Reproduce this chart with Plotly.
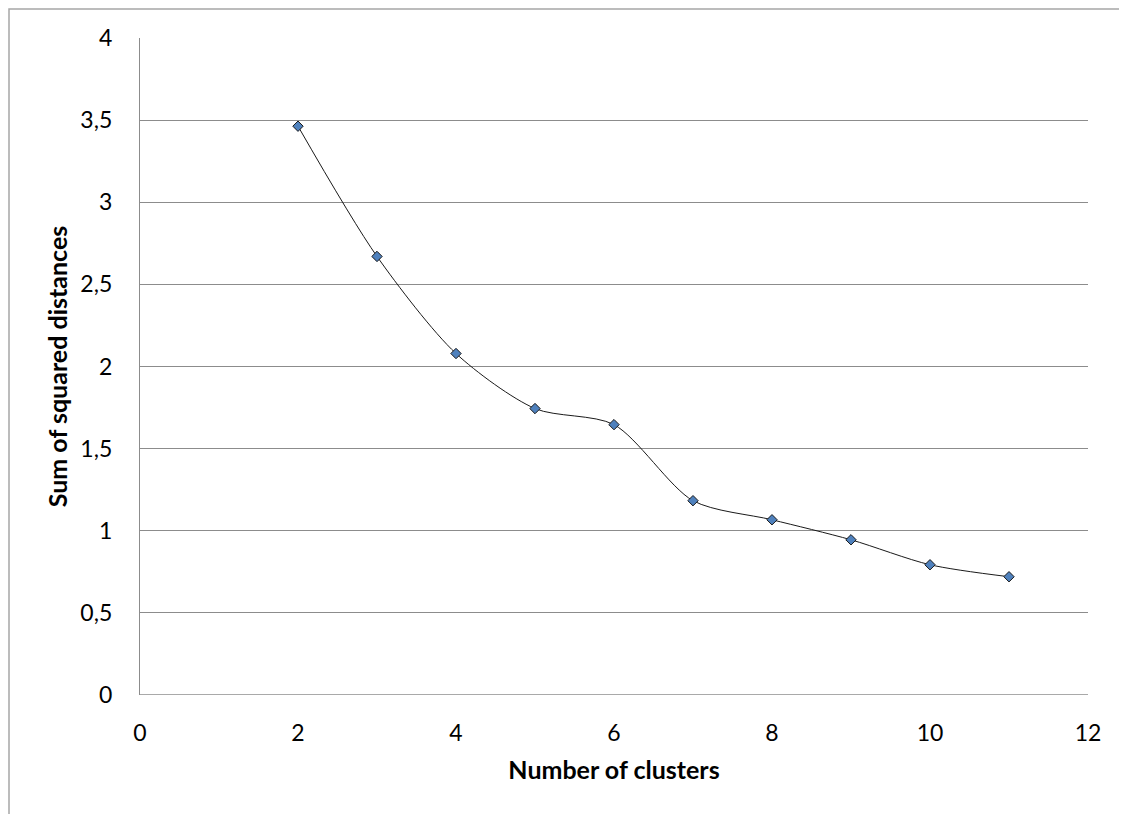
import plotly.graph_objects as go

clusters = [2, 3, 4, 5, 6, 7, 8, 9, 10, 11]
ssd = [3.463, 2.670, 2.079, 1.744, 1.646, 1.183, 1.067, 0.945, 0.793, 0.720]

FONT = "Lato"
W, H = 1119, 806          # page body adds an 8px offset
L, R, T, B = 132, 39, 30, 119
PW, PH = W - L - R, H - T - B

fig = go.Figure()
fig.add_trace(go.Scatter(
    x=clusters, y=ssd, mode="lines+markers",
    line=dict(color="#1a1a1a", width=1, shape="spline", smoothing=0.8),
    marker=dict(symbol="diamond", size=8, color="#4f81bd",
                line=dict(color="#1a1a1a", width=1)),
    showlegend=False,
))

fig.update_layout(
    width=W, height=H,
    margin=dict(l=L, r=R, t=T, b=B),
    paper_bgcolor="white", plot_bgcolor="white",
    separators=", ",
    font=dict(family=FONT, size=23, color="black"),
    shapes=[dict(type="rect", xref="paper", yref="paper",
                 x0=(-L + 1) / PW, x1=1.3, y0=-0.4, y1=1 + (T - 1) / PH,
                 line=dict(color="#a6a6a6", width=1.5), layer="below")],
)
fig.update_xaxes(
    range=[0, 12], dtick=2, tick0=0, showgrid=False, zeroline=False,
    showline=False, ticks="", ticklabelstandoff=22,
    title=dict(text="<b>Number of clusters</b>", font=dict(size=25), standoff=16),
)
fig.update_yaxes(
    range=[0, 4], dtick=0.5, tick0=0, showgrid=True, gridcolor="#8c8c8c",
    gridwidth=1.3, zeroline=False, showline=True, linecolor="#8c8c8c",
    linewidth=1.3, ticks="", ticklabelstandoff=22,
    title=dict(text="<b>Sum of squared distances</b>", font=dict(size=25), standoff=5),
)
fig.add_hline(y=0, line=dict(color="#8c8c8c", width=1.3))

fig.write_html("out.html")
